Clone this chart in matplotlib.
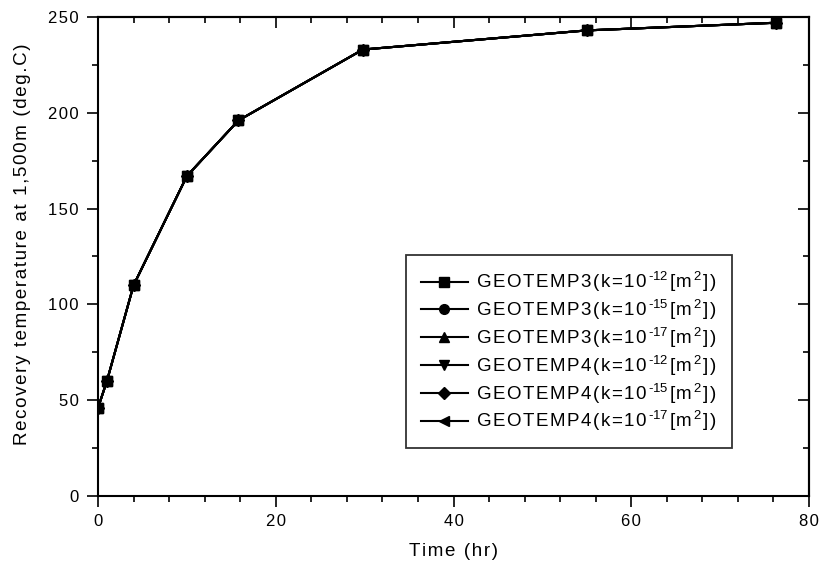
import numpy as np
import matplotlib
matplotlib.use("Agg")
import matplotlib.pyplot as plt
from matplotlib.ticker import MultipleLocator, FuncFormatter

plt.rcParams.update({
    "font.family": ["Liberation Sans", "DejaVu Sans"],
    "mathtext.fontset": "custom",
    "mathtext.rm": "Liberation Sans",
    "mathtext.it": "Liberation Sans",
    "mathtext.default": "regular",
    "font.size": 12,
})

HS = "\u200a"  # hair space, to mimic the wide letter spacing


def spaced(s):
    return HS.join(s)


# data
time_hr = [0, 1, 4, 10, 15.8, 29.8, 55, 76.3]
g3_k12 = [46, 60, 110, 167, 196, 233, 243, 247]
g3_k15 = [46, 60, 110, 167, 196, 233, 243, 247]
g3_k17 = [46, 60, 110, 167, 196, 233, 243, 247]
g4_k12 = [46, 60, 110, 167, 196, 233, 243, 247]
g4_k15 = [46, 60, 110, 167, 196, 233, 243, 247]
g4_k17 = [46, 60, 110, 167, 196, 233, 243, 247]

model = ["GEOTEMP3", "GEOTEMP3", "GEOTEMP3", "GEOTEMP4", "GEOTEMP4", "GEOTEMP4"]
perm_exp = ["-12", "-15", "-17", "-12", "-15", "-17"]
markers = ["s", "o", "^", "v", "D", "<"]
temps = [g3_k12, g3_k15, g3_k17, g4_k12, g4_k15, g4_k17]


def leg_label(m, e):
    return (spaced(m + "(k=10") + HS + "$^{" + e.replace("-", "\u2010") + "}$"
            + HS + spaced("[m") + HS + "$^{2}$" + HS + spaced("])"))


fig = plt.figure(figsize=(8.21, 5.66), dpi=100)
ax = fig.add_axes([0.1194, 0.1237, 0.866, 0.8463])

for vals, mk, m, e in zip(temps, markers, model, perm_exp):
    ms = 6.5 if mk == "D" else 7
    ax.plot(time_hr, vals, color="black", lw=1.5, marker=mk, ms=ms,
            markerfacecolor="black", markeredgecolor="black",
            label=leg_label(m, e))

ax.set_xlim(0, 80)
ax.set_ylim(0, 250)
ax.xaxis.set_major_locator(MultipleLocator(20))
ax.xaxis.set_minor_locator(MultipleLocator(4))
ax.yaxis.set_major_locator(MultipleLocator(50))
ax.yaxis.set_minor_locator(MultipleLocator(25))
fmt = FuncFormatter(lambda v, p: spaced(f"{v:g}"))
ax.xaxis.set_major_formatter(fmt)
ax.yaxis.set_major_formatter(fmt)

for sp in ax.spines.values():
    sp.set_linewidth(1.5)

ax.tick_params(which="both", direction="out", width=1.2, labelsize=12)
ax.tick_params(which="major", length=8)
ax.tick_params(which="minor", length=4)
ax.tick_params(axis="x", pad=5)
ax.tick_params(axis="y", pad=6)
# mirrored ticks on top/right point inward
axt = ax.secondary_xaxis("top")
axt.set_xticks(np.arange(0, 81, 20))
axt.xaxis.set_minor_locator(MultipleLocator(4))
axt.tick_params(which="both", direction="in", width=1.2, labeltop=False)
axt.tick_params(which="major", length=8)
axt.tick_params(which="minor", length=4)
axt.spines["top"].set_linewidth(1.5)
axr = ax.secondary_yaxis("right")
axr.set_yticks(np.arange(0, 251, 50))
axr.yaxis.set_minor_locator(MultipleLocator(25))
axr.tick_params(which="both", direction="in", width=1.2, labelright=False)
axr.tick_params(which="major", length=8)
axr.tick_params(which="minor", length=4)
axr.spines["right"].set_linewidth(1.5)

ax.set_xlabel(spaced("Time (hr)"), fontsize=13.5, labelpad=10)
ax.set_ylabel(spaced("Recovery temperature at 1,500m (deg.C)"), fontsize=13.5,
              labelpad=12)
ax.yaxis.label.set_y(0.526)

leg = ax.legend(loc="upper left", bbox_to_anchor=(0.433, 0.503), fontsize=13.5,
                frameon=True, fancybox=False, edgecolor="black",
                handlelength=2.5, handletextpad=0.45, borderpad=0.8,
                borderaxespad=0, labelspacing=0.2)
leg.get_frame().set_linewidth(1.3)

fig.savefig("out.png", dpi=100)
